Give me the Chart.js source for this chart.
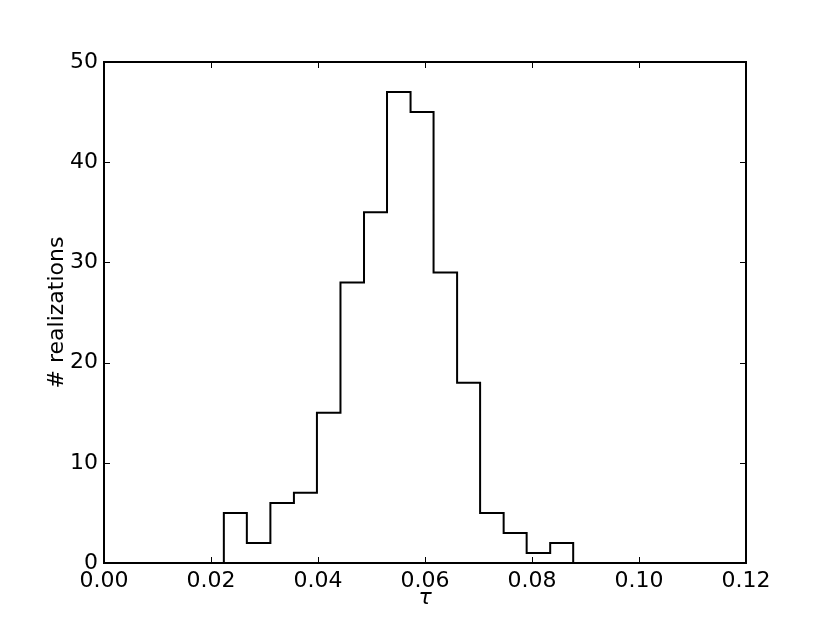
<!DOCTYPE html>
<html><head><meta charset="utf-8">
<script src="https://cdn.jsdelivr.net/npm/chart.js@4/dist/chart.umd.min.js"></script>
<style>html,body{margin:0;padding:0;background:#fff}canvas{display:block}</style>
</head><body>
<canvas id="c" width="830" height="626"></canvas>
<script>
const binEdges=[0.0224,0.0267,0.0311,0.0355,0.0398,0.0442,0.0486,0.0529,0.0573,0.0616,0.0660,0.0703,0.0747,0.0790,0.0834,0.0877];
const counts=[5,2,6,7,15,28,35,47,45,29,18,5,3,1,2];
const xTicks=[0,0.02,0.04,0.06,0.08,0.10,0.12];
const yTicks=[0,10,20,30,40,50];
const xLabel='τ';
const yLabel='# realizations';

// step outline: up at first edge, across each bin, down at last edge
const pts=[{x:binEdges[0],y:0}];
counts.forEach((c,i)=>{pts.push({x:binEdges[i],y:c});pts.push({x:binEdges[i+1],y:c});});
pts.push({x:binEdges[binEdges.length-1],y:0});

const FONT='DejaVu Sans';
const frame={
  id:'frame',
  afterDraw(chart){
    const {ctx,chartArea:a,scales}=chart;
    ctx.save();
    ctx.strokeStyle='#000';ctx.lineWidth=1;
    const L=6;
    scales.x.ticks.forEach(t=>{
      const px=Math.round(scales.x.getPixelForValue(t.value))+0.5;
      ctx.beginPath();ctx.moveTo(px,a.bottom);ctx.lineTo(px,a.bottom-L);
      ctx.moveTo(px,a.top);ctx.lineTo(px,a.top+L);ctx.stroke();
    });
    scales.y.ticks.forEach(t=>{
      const py=Math.round(scales.y.getPixelForValue(t.value))+0.5;
      ctx.beginPath();ctx.moveTo(a.left,py);ctx.lineTo(a.left+L,py);
      ctx.moveTo(a.right,py);ctx.lineTo(a.right-L,py);ctx.stroke();
    });
    ctx.lineWidth=2;
    ctx.strokeRect(a.left,a.top,a.right-a.left,a.bottom-a.top);
    ctx.restore();
  }
};

new Chart(document.getElementById('c'),{
  type:'line',
  data:{datasets:[{data:pts,borderColor:'#000',borderWidth:2,pointRadius:0,fill:false,tension:0,borderJoinStyle:'miter'}]},
  options:{
    responsive:false,animation:false,devicePixelRatio:1,
    layout:{padding:{top:62,right:84,left:0,bottom:0}},
    plugins:{legend:{display:false},tooltip:{enabled:false}},
    scales:{
      x:{type:'linear',min:0,max:0.12,
        afterBuildTicks:s=>{s.ticks=xTicks.map(v=>({value:v}));},
        afterFit:s=>{s.height=63;},
        grid:{display:false,drawTicks:false},border:{display:false},
        ticks:{color:'#000',padding:5,maxRotation:0,autoSkip:false,font:{family:FONT,size:22},callback:v=>Number(v).toFixed(2)},
        title:{display:true,text:xLabel,color:'#000',padding:{top:0,bottom:15},font:{family:FONT,size:22,style:'italic'}}
      },
      y:{type:'linear',min:0,max:50,
        afterBuildTicks:s=>{s.ticks=yTicks.map(v=>({value:v}));},
        afterFit:s=>{s.width=104;},
        grid:{display:false,drawTicks:false},border:{display:false},
        ticks:{color:'#000',padding:6,font:{family:FONT,size:22}},
        title:{display:true,text:yLabel,color:'#000',padding:{top:44,bottom:0},font:{family:FONT,size:22}}
      }
    }
  },
  plugins:[frame]
});
</script>
</body></html>
